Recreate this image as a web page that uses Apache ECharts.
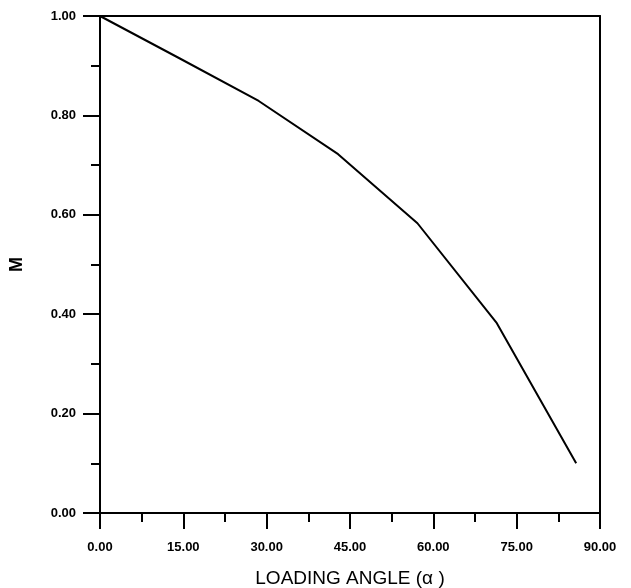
<!DOCTYPE html>
<html>
<head>
<meta charset="utf-8">
<script src="https://cdn.jsdelivr.net/npm/echarts@6/dist/echarts.min.js"></script>
<style>html,body{margin:0;padding:0;background:#fff;}#c{width:631px;height:588px;}</style>
</head>
<body>
<div id="c"></div>
<script>
const angles = [0, 14.29, 28.57, 42.86, 57.14, 71.43, 85.71];
const mValues = [1.00, 0.915, 0.829, 0.722, 0.583, 0.382, 0.100];
const xTitle = 'LOADING ANGLE (\u03b1 )';
const yTitle = 'M';

const chart = echarts.init(document.getElementById('c'), null, {renderer: 'canvas'});
const labelStyle = {color: '#000', fontFamily: 'Liberation Sans', fontSize: 13, fontWeight: 'bold'};
const axisLine = {show: true, onZero: false, lineStyle: {color: '#000', width: 2}};
chart.setOption({
  animation: false,
  backgroundColor: '#fff',
  grid: {left: 100, right: 31, top: 16, bottom: 75, containLabel: false, outerBoundsMode: 'none'},
  xAxis: [{
    type: 'value', min: 0, max: 90, interval: 15,
    name: xTitle, nameLocation: 'middle', nameGap: 56,
    nameTextStyle: {color: '#000', fontFamily: 'Liberation Sans', fontSize: 19},
    axisLine: axisLine,
    axisTick: {show: true, inside: false, length: 16, lineStyle: {color: '#000', width: 2}},
    minorTick: {show: true, splitNumber: 2, length: 9, lineStyle: {color: '#000', width: 2}},
    axisLabel: Object.assign({margin: 28, formatter: v => v.toFixed(2)}, labelStyle),
    splitLine: {show: false}
  }, {
    type: 'value', min: 0, max: 90, position: 'top',
    axisLine: axisLine, axisTick: {show: false}, axisLabel: {show: false}, splitLine: {show: false}
  }],
  yAxis: [{
    type: 'value', min: 0, max: 1, interval: 0.2,
    name: yTitle, nameLocation: 'middle', nameGap: 74,
    nameTextStyle: {color: '#000', fontFamily: 'Liberation Sans', fontSize: 18, fontWeight: 'bold'},
    axisLine: axisLine,
    axisTick: {show: true, inside: false, length: 17, lineStyle: {color: '#000', width: 2}},
    minorTick: {show: true, splitNumber: 2, length: 9, lineStyle: {color: '#000', width: 2}},
    axisLabel: Object.assign({margin: 24, formatter: v => v.toFixed(2)}, labelStyle),
    splitLine: {show: false}
  }, {
    type: 'value', min: 0, max: 1, position: 'right',
    axisLine: axisLine, axisTick: {show: false}, axisLabel: {show: false}, splitLine: {show: false}
  }],
  series: [{
    type: 'line',
    data: angles.map((a, i) => [a, mValues[i]]),
    showSymbol: false,
    lineStyle: {color: '#000', width: 2},
    xAxisIndex: 0, yAxisIndex: 0
  }]
});
</script>
</body>
</html>
